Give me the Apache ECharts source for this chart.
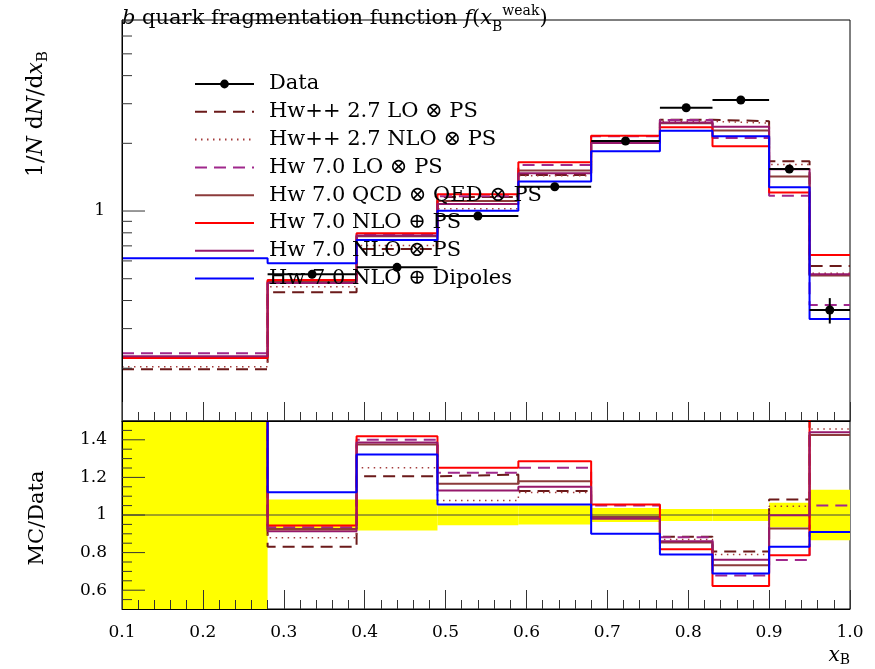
<!DOCTYPE html>
<html><head><meta charset="utf-8">
<script src="https://cdn.jsdelivr.net/npm/echarts/dist/echarts.min.js"></script>
<style>html,body{margin:0;padding:0;background:#fff}#c{width:875px;height:669px}</style>
</head><body><div id="c"></div>
<script>
// ---------- data ----------
const binEdges = [0.10, 0.28, 0.39, 0.49, 0.59, 0.68, 0.765, 0.83, 0.90, 0.95, 1.00];
const dataX   = [null, 0.335, 0.44, 0.54, 0.635, 0.7225, 0.7975, 0.865, 0.925, 0.975];
const dataY   = [null, 0.523, 0.562, 0.950, 1.282, 2.048, 2.879, 3.115, 1.537, 0.363];
const dataErr = [null, 0.020, 0.022, 0.030, 0.040, 0.050, 0.060, 0.060, 0.050, 0.047];

const hwppLO    = [0.198, 0.435, 0.678, 1.154, 1.445, 2.017, 2.545, 2.51, 1.663, 0.569];
const hwppNLO   = [0.203, 0.460, 0.703, 1.023, 1.436, 2.028, 2.505, 2.46, 1.610, 0.529];
const hw7LO     = [0.233, 0.489, 0.787, 1.164, 1.604, 2.150, 2.539, 2.11, 1.168, 0.382];
const hw7QCDQED = [0.224, 0.484, 0.773, 1.108, 1.513, 2.028, 2.459, 2.28, 1.425, 0.517];
const hw7NLOpPS = [0.222, 0.494, 0.797, 1.188, 1.649, 2.163, 2.355, 1.94, 1.208, 0.637];
const hw7NLOxPS = [0.226, 0.478, 0.778, 1.074, 1.474, 2.007, 2.476, 2.37, 1.535, 0.523];
const hw7Dip    = [0.616, 0.586, 0.743, 1.003, 1.354, 1.843, 2.274, 2.15, 1.277, 0.331];

const rHwppLO    = [2.2, 0.831, 1.206, 1.215, 1.127, 0.985, 0.884, 0.806, 1.082, 1.57];
const rHwppNLO   = [2.2, 0.879, 1.251, 1.077, 1.120, 0.990, 0.870, 0.790, 1.047, 1.458];
const rHw7LO     = [2.2, 0.935, 1.400, 1.225, 1.251, 1.050, 0.882, 0.678, 0.760, 1.050];
const rHw7QCDQED = [2.2, 0.925, 1.375, 1.166, 1.180, 0.990, 0.854, 0.733, 0.928, 1.425];
const rHw7NLOpPS = [2.2, 0.944, 1.419, 1.251, 1.286, 1.056, 0.818, 0.622, 0.786, 1.75];
const rHw7NLOxPS = [2.2, 0.914, 1.385, 1.130, 1.150, 0.980, 0.860, 0.762, 0.999, 1.440];
const rHw7Dip    = [6.0, 1.121, 1.322, 1.056, 1.056, 0.900, 0.790, 0.689, 0.831, 0.909];

const bandLo = [0.5, 0.917, 0.917, 0.945, 0.950, 0.963, 0.968, 0.968, 0.935, 0.866];
const bandHi = [1.5, 1.083, 1.083, 1.050, 1.050, 1.037, 1.032, 1.032, 1.065, 1.134];

const seriesNames = ['Hw++ 2.7 LO ⊗ PS', 'Hw++ 2.7 NLO ⊗ PS', 'Hw 7.0 LO ⊗ PS',
  'Hw 7.0 QCD ⊗ QED ⊗ PS', 'Hw 7.0 NLO ⊕ PS', 'Hw 7.0 NLO ⊗ PS', 'Hw 7.0 NLO ⊕ Dipoles'];
const xTickLabels = ['0.1','0.2','0.3','0.4','0.5','0.6','0.7','0.8','0.9','1.0'];
const topMajorTicks = [1];
const topMinorTicks = [0.2,0.3,0.4,0.5,0.6,0.7,0.8,0.9,2,3,4,5,6,7];
const ratioMajorTicks = [0.6,0.8,1.0,1.2,1.4];
const ratioMinorTicks = [0.55,0.65,0.7,0.75,0.85,0.9,0.95,1.05,1.1,1.15,1.25,1.3,1.35,1.45];
const ratioTickLabels = {6:'0.6', 8:'0.8', 10:'1', 12:'1.2', 14:'1.4'};

// ---------- styles ----------
const FONT = 'DejaVu Serif';
const styles = [
  {color:'#6b1a1a', type:[12,7], width:2},
  {color:'#a33b3b', type:[1.5,4.5], width:1.5},
  {color:'#a0288c', type:[12,7], width:2},
  {color:'#8c3b3b', type:'solid', width:2},
  {color:'#ff0000', type:'solid', width:2},
  {color:'#96186b', type:'solid', width:2},
  {color:'#0000ff', type:'solid', width:2}
];
const topVals = [hwppLO, hwppNLO, hw7LO, hw7QCDQED, hw7NLOpPS, hw7NLOxPS, hw7Dip];
const ratioVals = [rHwppLO, rHwppNLO, rHw7LO, rHw7QCDQED, rHw7NLOpPS, rHw7NLOxPS, rHw7Dip];

function stepData(vals){
  const d = vals.map((v,i)=>[binEdges[i], v]);
  d.push([binEdges[binEdges.length-1], vals[vals.length-1]]);
  return d;
}
function tickSeries(xi, yi, vals, len){
  return {type:'custom', xAxisIndex:xi, yAxisIndex:yi, silent:true, z:6,
    data: vals.map(v=>[0.1, v]), encode:{x:0,y:1},
    renderItem:(params, api)=>{
      const p = api.coord([api.value(0), api.value(1)]);
      return {type:'line', shape:{x1:p[0], y1:p[1], x2:p[0]+len, y2:p[1]},
        style:{stroke:'#333', lineWidth:1}};
    }};
}

const series = [];
// yellow band
series.push({type:'custom', xAxisIndex:1, yAxisIndex:1, silent:true, z:1,
  data: bandLo.map((lo,i)=>[binEdges[i], binEdges[i+1], lo, bandHi[i]]),
  encode:{x:[0,1], y:[2,3]},
  renderItem:(params, api)=>{
    const p1 = api.coord([api.value(0), api.value(3)]);
    const p2 = api.coord([api.value(1), api.value(2)]);
    const cs = params.coordSys;
    const r = echarts.graphic.clipRectByRect(
      {x:p1[0], y:p1[1], width:p2[0]-p1[0], height:p2[1]-p1[1]},
      {x:cs.x, y:cs.y, width:cs.width, height:cs.height});
    if(!r) return null;
    return {type:'rect', shape:r, style:{fill:'#ffff00'}};
  }});
// reference line at 1
series.push({type:'line', xAxisIndex:1, yAxisIndex:1, silent:true, symbol:'none', z:2,
  data:[[0.1,1],[1.0,1]], lineStyle:{color:'#444', width:1}});
// MC
seriesNames.forEach((n,k)=>{
  const st = styles[k];
  [[0, topVals[k]], [1, ratioVals[k]]].forEach(([ax, vals])=>{
    series.push({type:'line', name:n, xAxisIndex:ax, yAxisIndex:ax, step:'end',
      symbol:'none', clip:true, z:3, silent:true,
      data: stepData(vals),
      lineStyle:{color:st.color, width:st.width, type:st.type},
      itemStyle:{color:st.color}});
  });
});
// data error bars
const dataPts = [];
for(let i=0;i<dataY.length;i++){ if(dataY[i]!=null) dataPts.push([binEdges[i], binEdges[i+1], dataX[i], dataY[i], dataErr[i]]); }
series.push({type:'custom', xAxisIndex:0, yAxisIndex:0, silent:true, z:4,
  data: dataPts, encode:{x:[0,1], y:3},
  renderItem:(params, api)=>{
    const y = api.value(3), e = api.value(4), xc = api.value(2);
    const pL = api.coord([api.value(0), y]), pR = api.coord([api.value(1), y]);
    const pT = api.coord([xc, y+e]), pB = api.coord([xc, y-e]);
    return {type:'group', children:[
      {type:'line', shape:{x1:pL[0],y1:pL[1],x2:pR[0],y2:pR[1]}, style:{stroke:'#000', lineWidth:2}},
      {type:'line', shape:{x1:pT[0],y1:pT[1],x2:pB[0],y2:pB[1]}, style:{stroke:'#000', lineWidth:2}}
    ]};
  }});
series.push({type:'line', name:'Data', xAxisIndex:0, yAxisIndex:0, silent:true, z:5,
  data: dataPts.map(d=>[d[2], d[3]]), symbol:'circle', symbolSize:9, showSymbol:true,
  lineStyle:{opacity:0}, itemStyle:{color:'#000'}});
// ticks
series.push(tickSeries(0,0,topMajorTicks,23));
series.push(tickSeries(0,0,topMinorTicks,10));
series.push(tickSeries(1,1,ratioMajorTicks,23));
series.push(tickSeries(1,1,ratioMinorTicks,10));

const xAxisCommon = {type:'value', min:0.1, max:1.0, interval:0.1, z:5,
  axisLine:{onZero:false, lineStyle:{color:'#000', width:1}},
  axisTick:{inside:true, length:19, lineStyle:{color:'#333'}},
  minorTick:{show:true, splitNumber:5, length:9, lineStyle:{color:'#333'}},
  splitLine:{show:false}};

const legendData = [{name:'Data', lineStyle:{opacity:1, width:2, color:'#000'}, itemStyle:{color:'#000'}}]
  .concat(seriesNames.map(n=>({name:n, itemStyle:{opacity:0}})));

const chart = echarts.init(document.getElementById('c'), null, {renderer:'canvas'});
chart.setOption({
  animation:false,
  backgroundColor:'#fff',
  grid:[
    {left:122, right:25, top:20, height:401, show:true, borderColor:'#000', borderWidth:1, backgroundColor:'transparent'},
    {left:122, right:25, top:421, height:188, show:true, borderColor:'#000', borderWidth:1, backgroundColor:'transparent'}
  ],
  xAxis:[
    Object.assign({}, xAxisCommon, {gridIndex:0, axisLabel:{show:false}}),
    Object.assign({}, xAxisCommon, {gridIndex:1,
      axisLabel:{show:true, margin:15, fontFamily:FONT, fontSize:17, color:'#000',
        formatter:(v)=>xTickLabels[Math.round(v*10)-1] || ''}})
  ],
  yAxis:[
    {type:'log', gridIndex:0, min:0.1165, max:7.07, logBase:10, z:5,
      axisLine:{show:true, onZero:false, lineStyle:{color:'#000'}},
      axisTick:{show:false}, splitLine:{show:false}, minorTick:{show:false},
      axisLabel:{margin:17, fontFamily:FONT, fontSize:17, color:'#000', showMinLabel:false, showMaxLabel:false,
        formatter:(v)=> Math.abs(v-1)<1e-9 ? '1' : ''}},
    {type:'value', gridIndex:1, min:0.5, max:1.5, interval:0.1, z:5,
      axisLine:{show:true, onZero:false, lineStyle:{color:'#000'}},
      axisTick:{show:false}, splitLine:{show:false},
      axisLabel:{margin:15, fontFamily:FONT, fontSize:17, color:'#000',
        formatter:(v)=> ratioTickLabels[Math.round(v*10)] || ''}}
  ],
  legend:{
    orient:'vertical', left:194, top:73, padding:0, itemWidth:59, itemHeight:11, itemGap:5.8,
    selectedMode:false,
    textStyle:{fontFamily:FONT, fontSize:21, color:'#000', lineHeight:22, padding:[0,0,0,10]},
    data: legendData
  },
  graphic:[
    {type:'text', left:122, top:4, silent:true,
      style:{text:'{i|b} quark fragmentation function {i|f}({i|x}{sub|B}{sup|weak})',
        fontFamily:FONT, fontSize:21, fill:'#000', lineHeight:30,
        rich:{i:{fontStyle:'italic', fontFamily:FONT, fontSize:21, lineHeight:30},
              sub:{fontFamily:FONT, fontSize:14, verticalAlign:'bottom', lineHeight:22},
              sup:{fontFamily:FONT, fontSize:14, verticalAlign:'top', lineHeight:22}}}},
    {type:'text', x:36, y:114, rotation:Math.PI/2, silent:true,
      style:{text:'1/{i|N} d{i|N}/d{i|x}{sub|B}', align:'center', verticalAlign:'middle',
        fontFamily:FONT, fontSize:22, fill:'#000',
        rich:{i:{fontStyle:'italic', fontFamily:FONT, fontSize:22},
              sub:{fontFamily:FONT, fontSize:15, verticalAlign:'bottom', lineHeight:30}}}},
    {type:'text', x:38, y:518, rotation:Math.PI/2, silent:true,
      style:{text:'MC/Data', align:'center', verticalAlign:'middle',
        fontFamily:FONT, fontSize:21, fill:'#000'}},
    {type:'text', right:25, top:646, silent:true,
      style:{text:'{i|x}{sub|B}', fontFamily:FONT, fontSize:20, fill:'#000',
        rich:{i:{fontStyle:'italic', fontFamily:FONT, fontSize:20, lineHeight:22},
              sub:{fontFamily:FONT, fontSize:14, verticalAlign:'bottom', lineHeight:22}}}}
  ],
  series: series
});
</script>
</body></html>
